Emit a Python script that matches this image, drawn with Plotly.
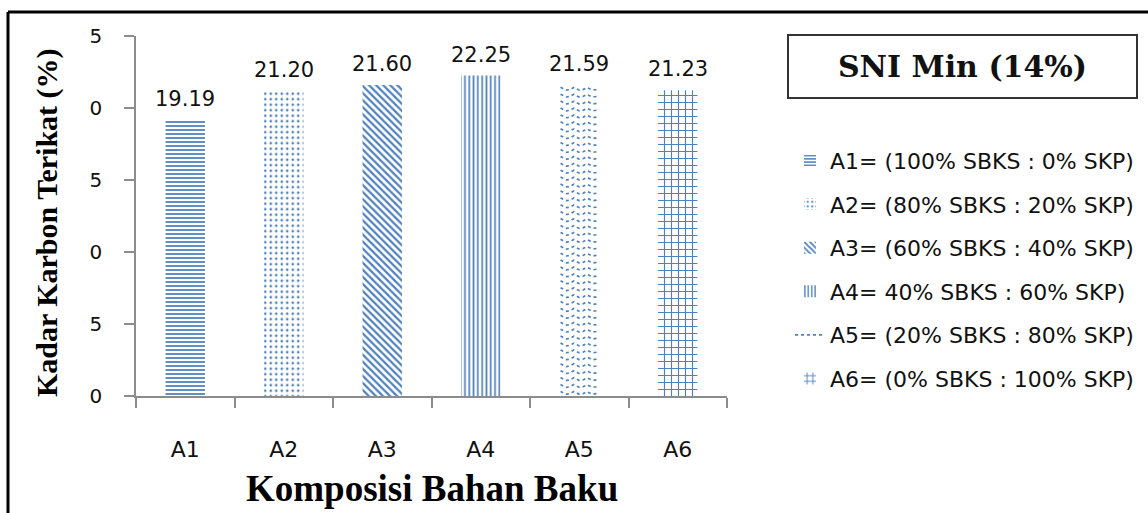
import numpy as np
import plotly.graph_objects as go

# Data
categories = ["A1", "A2", "A3", "A4", "A5", "A6"]
values = [19.19, 21.20, 21.60, 22.25, 21.59, 21.23]
legend_labels = [
    "A1= (100% SBKS : 0% SKP)",
    "A2= (80% SBKS : 20% SKP)",
    "A3= (60% SBKS : 40% SKP)",
    "A4= 40% SBKS : 60% SKP)",
    "A5= (20% SBKS : 80% SKP)",
    "A6= (0% SBKS : 100% SKP)",
]
y_tick_values = [0, 5, 10, 15, 20, 25]
y_tick_labels = ["0", "5", "0", "5", "0", "5"]

BLUE = "#4F81BD"
SANS = "DejaVu Sans, sans-serif"
SERIF = "Liberation Serif, DejaVu Serif, serif"
WIDE_SERIF = "DejaVu Serif, serif"
BAR_W = 0.4

# pattern per bar (A5 uses a drawn wave fill)
patterns = [
    dict(shape="-", size=4, solidity=0.45),
    dict(shape=".", size=5.5, solidity=0.18),
    dict(shape="\\", size=5, solidity=0.45),
    dict(shape="|", size=4.3, solidity=0.4),
    None,
    dict(shape="+", size=7, solidity=0.3),
]

fig = go.Figure()
xs = list(range(len(categories)))

for i, (cat, v, lab, pat) in enumerate(zip(categories, values, legend_labels, patterns)):
    if pat is not None:
        fig.add_trace(go.Bar(
            x=[xs[i]], y=[v], width=BAR_W, name=lab,
            marker=dict(color="white", line=dict(width=0),
                        pattern=dict(fgcolor=BLUE, bgcolor="white", fillmode="replace", **pat)),
            legendgroup=cat, showlegend=True,
        ))
    else:
        fig.add_trace(go.Bar(
            x=[xs[i]], y=[v], width=BAR_W, name=lab,
            marker=dict(color="white", line=dict(width=0)),
            legendgroup=cat, showlegend=False,
        ))
        # wavy fill rows inside the bar
        row_gap = 0.48
        period = BAR_W / 3
        amp = 0.2
        wx, wy = [], []
        xx = np.linspace(xs[i] - BAR_W / 2 + 0.01, xs[i] + BAR_W / 2 - 0.01, 60)
        row = amp + 0.12
        while row <= v - 0.05:
            yy = row - amp * np.abs(np.sin(np.pi * (xx - xx[0]) / period))
            wx.extend(list(xx) + [None])
            wy.extend(list(yy) + [None])
            row += row_gap
        fig.add_trace(go.Scatter(
            x=wx, y=wy, mode="lines", name=lab,
            line=dict(color=BLUE, width=1.7, dash="dot"),
            legendgroup=cat, showlegend=True, hoverinfo="skip",
        ))

# value labels above bars
for x, v in zip(xs, values):
    fig.add_annotation(x=x, y=v, text=f"{v:.2f}", showarrow=False,
                       yanchor="bottom", yshift=7,
                       font=dict(family=SANS, size=21, color="#111"))

# axis titles
fig.add_annotation(xref="paper", yref="paper", x=0.5, y=-0.2556,
                   xanchor="center", yanchor="middle",
                   text="<b>Komposisi Bahan Baku</b>", showarrow=False,
                   font=dict(family=SERIF, size=37, color="#000"))
fig.add_annotation(xref="paper", yref="paper", x=-0.1506, y=0.483,
                   xanchor="center", yanchor="middle",
                   text="<b>Kadar Karbon Terikat (%)</b>", showarrow=False,
                   textangle=-90, font=dict(family=SERIF, size=30, color="#000"))

# standard box
fig.add_annotation(xref="paper", yref="paper", x=1.3985, y=0.9153,
                   xanchor="center", yanchor="middle",
                   text="<b>SNI Min (14%)</b>", showarrow=False,
                   width=347, height=61, borderpad=0, borderwidth=2,
                   bordercolor="#333", bgcolor="white",
                   font=dict(family=WIDE_SERIF, size=30, color="#111"))

# outer frame (top and left edges)
fig.add_shape(type="line", xref="paper", yref="paper",
              x0=-0.2166, x1=1.75, y0=1.0667, y1=1.0667,
              line=dict(color="#000", width=3))
fig.add_shape(type="line", xref="paper", yref="paper",
              x0=-0.2166, x1=-0.2166, y0=1.0667, y1=-0.35,
              line=dict(color="#000", width=3))

fig.update_layout(
    width=1148, height=513,
    margin=dict(l=136, r=421, t=36, b=117, autoexpand=False),
    paper_bgcolor="white", plot_bgcolor="white",
    barmode="overlay",
    showlegend=True,
    legend=dict(x=1.1066, y=0.712, xanchor="left", yanchor="top",
                font=dict(family=SANS, size=22, color="#111"),
                tracegroupgap=12, traceorder="grouped",
                bgcolor="rgba(0,0,0,0)"),
    xaxis=dict(range=[-0.5, 5.5], tickvals=xs, ticktext=categories,
               ticks="", showgrid=False, zeroline=False,
               showline=True, linecolor="#8c8c8c", linewidth=1.5,
               ticklabelstandoff=33,
               tickfont=dict(family=SANS, size=22, color="#111"),
               minor=dict(tickvals=[-0.5, 0.5, 1.5, 2.5, 3.5, 4.5, 5.5],
                          ticks="outside", ticklen=10, tickcolor="#8c8c8c",
                          tickwidth=1.5, showgrid=False)),
    yaxis=dict(range=[0, 25], tickvals=y_tick_values, ticktext=y_tick_labels,
               ticks="outside", ticklen=10, tickcolor="#8c8c8c", tickwidth=1.5,
               showgrid=False, zeroline=False,
               showline=True, linecolor="#8c8c8c", linewidth=1.5,
               ticklabelstandoff=18,
               tickfont=dict(family=SANS, size=20, color="#111")),
)

fig.write_html("out.html")
